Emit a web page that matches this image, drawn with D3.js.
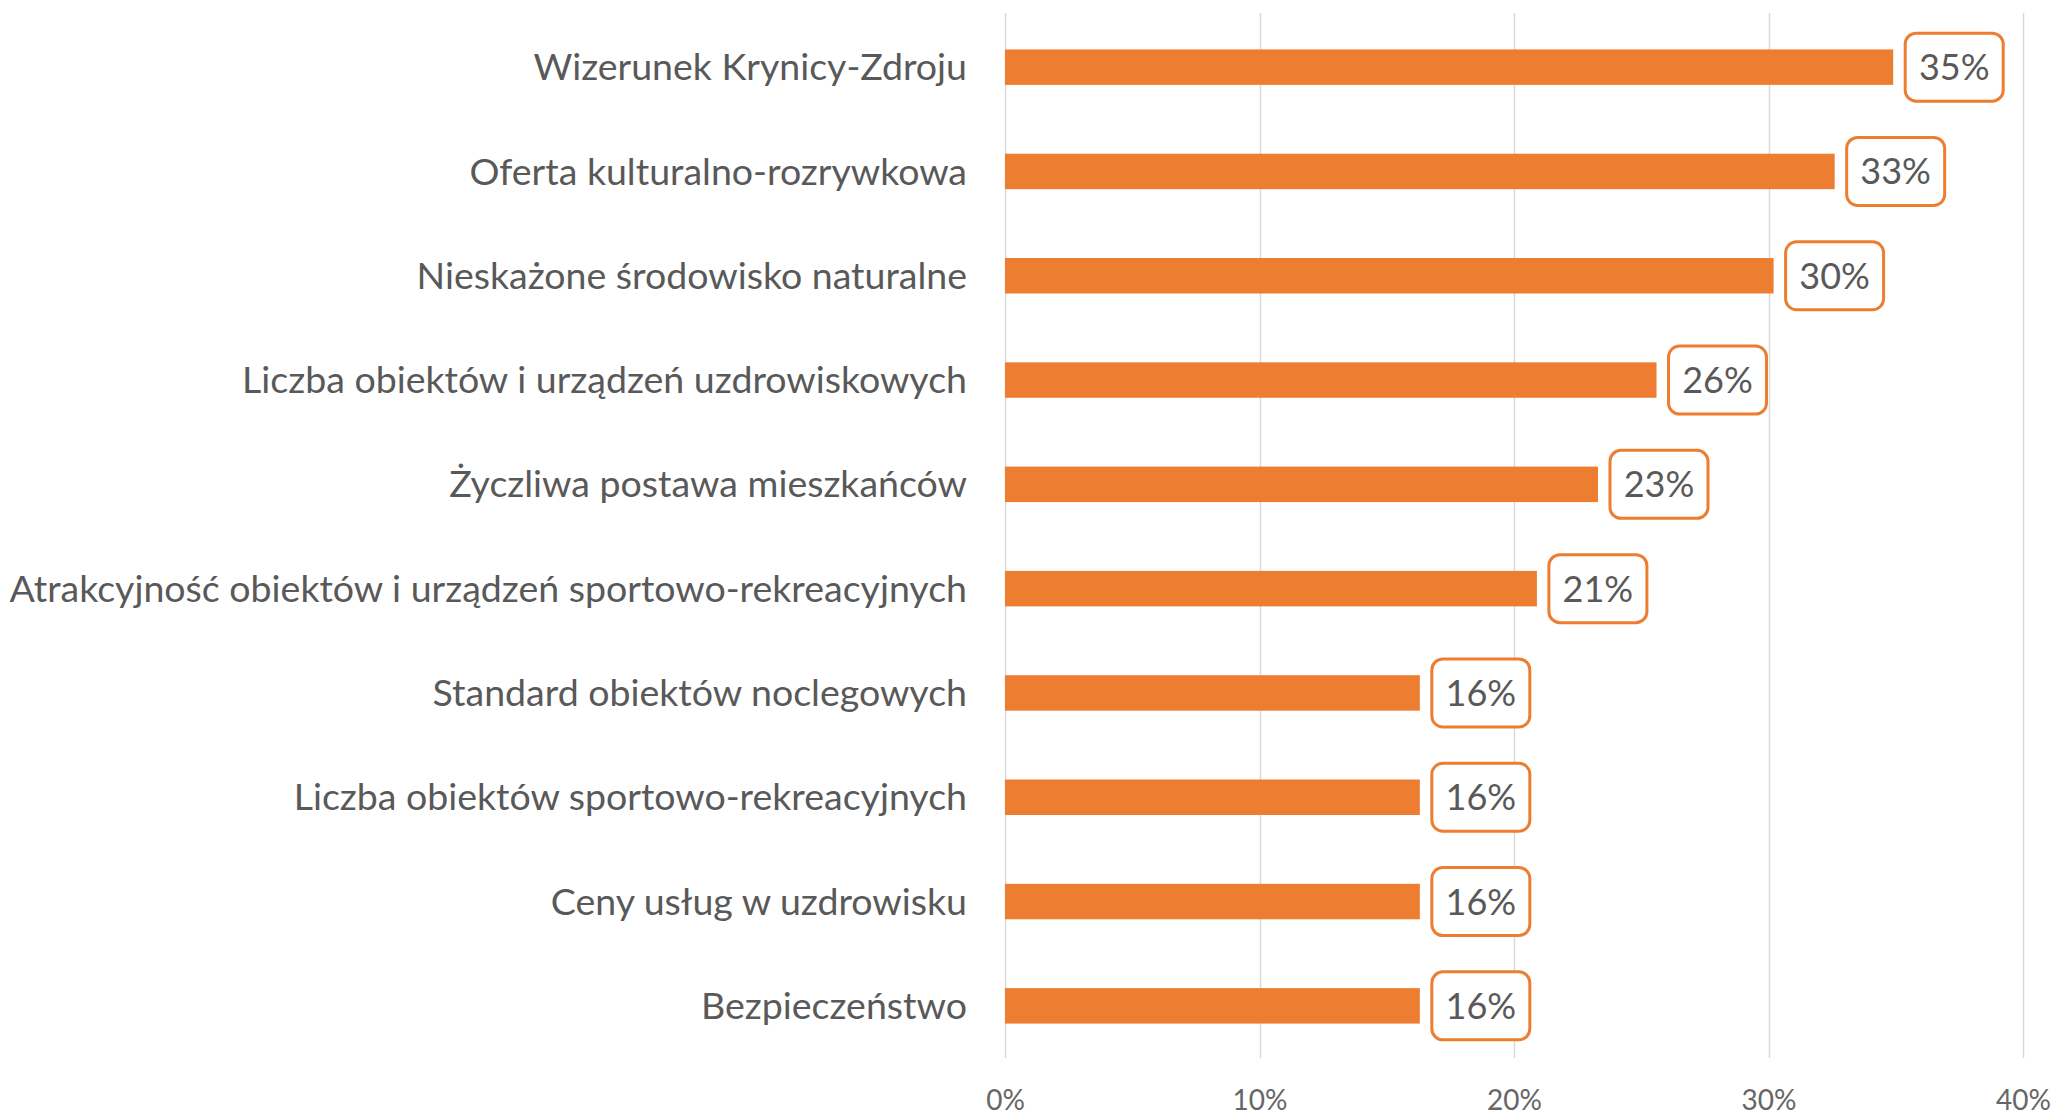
<!DOCTYPE html>
<html>
<head>
<meta charset="utf-8">
<script src="https://cdn.jsdelivr.net/npm/d3@7"></script>
<style>
    body { margin: 0; background: #fff; }
    svg { display: block; }
</style>
</head>
<body>
<div id="chart"></div>
<script>
// categories, top to bottom
var categories = [
    "Wizerunek Krynicy-Zdroju",
    "Oferta kulturalno-rozrywkowa",
    "Nieskażone środowisko naturalne",
    "Liczba obiektów i urządzeń uzdrowiskowych",
    "Życzliwa postawa mieszkańców",
    "Atrakcyjność obiektów i urządzeń sportowo-rekreacyjnych",
    "Standard obiektów noclegowych",
    "Liczba obiektów sportowo-rekreacyjnych",
    "Ceny usług w uzdrowisku",
    "Bezpieczeństwo"
];

// share of answers
var values = [0.349, 0.326, 0.302, 0.256, 0.233, 0.209, 0.163, 0.163, 0.163, 0.163];

var ticks = [0, 0.1, 0.2, 0.3, 0.4];

function init() {

    var width = 2058;
    var height = 1116;

    var svg = d3.select("#chart")
        .append("svg")
        .attr("width", width)
        .attr("height", height);

    var x = d3.scaleLinear()
        .domain([0, 0.4])
        .range([1005, 2023]);

    var y = d3.scaleBand()
        .domain(categories)
        .range([15, 1058])
        .paddingInner(0.66)
        .paddingOuter(0.33);

    var fmt = d3.format(".0%");

    // vertical gridlines
    svg.append("g")
        .selectAll("line")
        .data(ticks)
        .enter()
        .append("line")
        .attr("x1", function (d) { return Math.round(x(d)) + 0.5; })
        .attr("x2", function (d) { return Math.round(x(d)) + 0.5; })
        .attr("y1", 13)
        .attr("y2", 1058)
        .style("stroke", "#d9d9d9")
        .style("stroke-width", "1.5px");

    // x axis labels
    var xAxis = d3.axisBottom(x)
        .tickValues(ticks)
        .tickFormat(fmt)
        .tickSize(0)
        .tickPadding(0);

    svg.append("g")
        .attr("transform", "translate(0,1090)")
        .call(xAxis)
        .call(function (g) { g.select(".domain").remove(); })
        .selectAll("text")
        .style("font-family", "Lato, 'Open Sans', sans-serif")
        .style("font-size", "28px")
        .style("fill", "#666");

    // category labels
    var yAxis = d3.axisLeft(y)
        .tickSize(0)
        .tickPadding(0);

    svg.append("g")
        .attr("transform", "translate(967,0)")
        .call(yAxis)
        .call(function (g) { g.select(".domain").remove(); })
        .selectAll("text")
        .attr("dy", "0.35em")
        .style("font-family", "Lato, 'Open Sans', sans-serif")
        .style("font-size", "37.5px")
        .style("fill", "#595959");

    // bars
    svg.append("g")
        .selectAll("rect")
        .data(values)
        .enter()
        .append("rect")
        .attr("x", x(0))
        .attr("y", function (d, i) { return y(categories[i]); })
        .attr("width", function (d) { return x(d) - x(0); })
        .attr("height", y.bandwidth())
        .style("fill", "#ed7d31");

    // value labels in rounded boxes
    var labels = svg.append("g")
        .selectAll("g")
        .data(values)
        .enter()
        .append("g")
        .attr("transform", function (d, i) {
            return "translate(" + (x(d) + 12) + "," + (y(categories[i]) + y.bandwidth() / 2) + ")";
        });

    labels.append("rect")
        .attr("x", 0)
        .attr("y", -34)
        .attr("width", 98)
        .attr("height", 68)
        .attr("rx", 11)
        .style("fill", "#fff")
        .style("stroke", "#ed7d31")
        .style("stroke-width", "3px");

    labels.append("text")
        .attr("x", 49)
        .attr("dy", "0.36em")
        .attr("text-anchor", "middle")
        .style("font-family", "Lato, 'Open Sans', sans-serif")
        .style("font-size", "36px")
        .style("fill", "#595959")
        .text(function (d) { return fmt(d); });
}

window.onload = init;
</script>
</body>
</html>
